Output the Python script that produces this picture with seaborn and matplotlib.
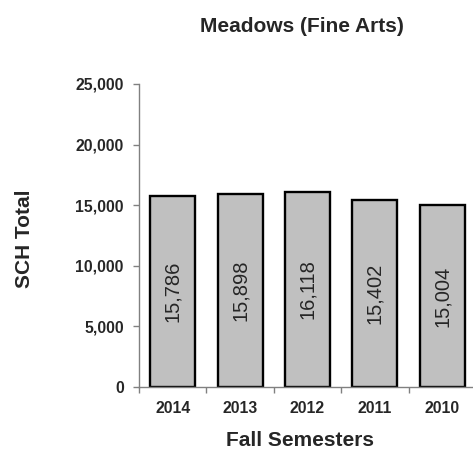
import matplotlib
matplotlib.use("Agg")
import matplotlib.pyplot as plt
import numpy as np
import pandas as pd
import seaborn as sns
from matplotlib.ticker import FuncFormatter, FixedLocator

# chart data
years = ['2014', '2013', '2012', '2011', '2010']
sch_totals = [15786, 15898, 16118, 15402, 15004]
y_ticks = [0, 5000, 10000, 15000, 20000, 25000]

sns.set_style('white')
plt.rcParams['font.family'] = ['Liberation Sans', 'DejaVu Sans']

df = pd.DataFrame({'year': years, 'sch': sch_totals})

fig = plt.figure(figsize=(4.73, 4.53), dpi=100)
ax = fig.add_axes([139 / 473, 1 - 387 / 453, (476 - 139) / 473, (387 - 84) / 453])

sns.barplot(data=df, x='year', y='sch', color='#C0C0C0', saturation=1,
            edgecolor='black', linewidth=1.7, width=0.67, ax=ax)

ax.bar_label(ax.containers[0], labels=[f'{v:,}' for v in sch_totals],
             label_type='center', rotation=90, fontsize=14.5)

ax.set_xlim(-0.5, len(years) - 0.5)
ax.set_ylim(0, 25000)
ax.set_yticks(y_ticks)
ax.yaxis.set_major_formatter(FuncFormatter(lambda v, p: f'{int(v):,}'))

# ticks between categories on the x axis
ax.xaxis.set_minor_locator(FixedLocator(np.arange(-0.5, len(years), 1)))
ax.tick_params(axis='x', which='major', length=0, pad=10)
ax.tick_params(axis='x', which='minor', length=4, width=1, color='#808080',
               direction='out', bottom=True)
ax.tick_params(axis='y', which='major', length=4, width=1, color='#808080',
               direction='out', left=True, pad=7)
for lab in ax.get_xticklabels() + ax.get_yticklabels():
    lab.set_fontweight('bold')
    lab.set_fontsize(11.3)

for s in ['top', 'right']:
    ax.spines[s].set_visible(False)
for s in ['left', 'bottom']:
    ax.spines[s].set_color('#808080')
    ax.spines[s].set_linewidth(1)

ax.set_xlabel('')
ax.set_ylabel('')
fig.text(302 / 473, 1 - 26 / 453, 'Meadows (Fine Arts)', ha='center', va='center',
         fontsize=15, fontweight='bold')
fig.text(300 / 473, 1 - 441 / 453, 'Fall Semesters', ha='center', va='center',
         fontsize=15, fontweight='bold')
fig.text(25 / 473, 1 - 239 / 453, 'SCH Total', ha='center', va='center',
         rotation=90, fontsize=15, fontweight='bold')

fig.savefig('out.png', dpi=100)
